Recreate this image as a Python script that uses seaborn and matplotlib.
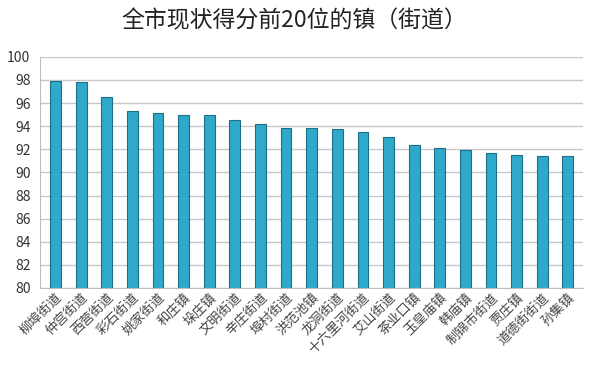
import matplotlib
matplotlib.use("Agg")
import matplotlib.pyplot as plt
import seaborn as sns
import pandas as pd

towns = ["柳埠街道", "仲宫街道", "西营街道", "彩石街道", "姚家街道", "和庄镇", "垛庄镇",
         "文明街道", "辛庄街道", "埠村街道", "洪范池镇", "龙洞街道", "十六里河街道", "艾山街道",
         "茶业口镇", "玉皇庙镇", "韩庙镇", "制锦市街道", "贾庄镇", "道德街街道", "孙集镇"]
scores = [97.9, 97.8, 96.5, 95.3, 95.1, 95.0, 94.95, 94.55, 94.2, 93.85, 93.8, 93.75,
          93.5, 93.05, 92.4, 92.15, 91.95, 91.7, 91.5, 91.45, 91.45]
yticks = list(range(80, 101, 2))

df = pd.DataFrame({"town": towns, "score": scores})

sns.set_style("white")
plt.rcParams["font.family"] = ["Noto Sans CJK SC", "DejaVu Sans"]

fig = plt.figure(figsize=(6, 3.74), dpi=100)
ax = fig.add_axes([0.067, 0.23, 0.905, 0.618])

sns.barplot(data=df, x="town", y="score", color="#2ea9c9", width=0.42,
            edgecolor="#1d6f87", linewidth=0.8, saturation=1, ax=ax)

ax.set_ylim(80, 100)
ax.set_yticks(yticks)
ax.set_xlim(-0.6, len(towns) - 0.4)
ax.yaxis.grid(True, color="#c8c8c8", linewidth=1)
ax.set_axisbelow(True)
for s in ["top", "right"]:
    ax.spines[s].set_visible(False)
for s in ["left", "bottom"]:
    ax.spines[s].set_color("#bdbdbd")
ax.tick_params(axis="y", length=4, color="#bdbdbd", labelsize=10, labelcolor="#333333", pad=3)
ax.tick_params(axis="x", length=0, labelsize=9.5, labelcolor="#444444", pad=2)
ax.set_xticks(range(len(towns)))
ax.set_xticklabels(towns, rotation=45, ha="right", rotation_mode="anchor")
ax.set_xlabel("")
ax.set_ylabel("")

fig.suptitle("全市现状得分前20位的镇（街道）", x=0.49, y=0.975, fontsize=16.5,
             fontweight="medium", color="#222222")

fig.savefig("out.png", dpi=100)
